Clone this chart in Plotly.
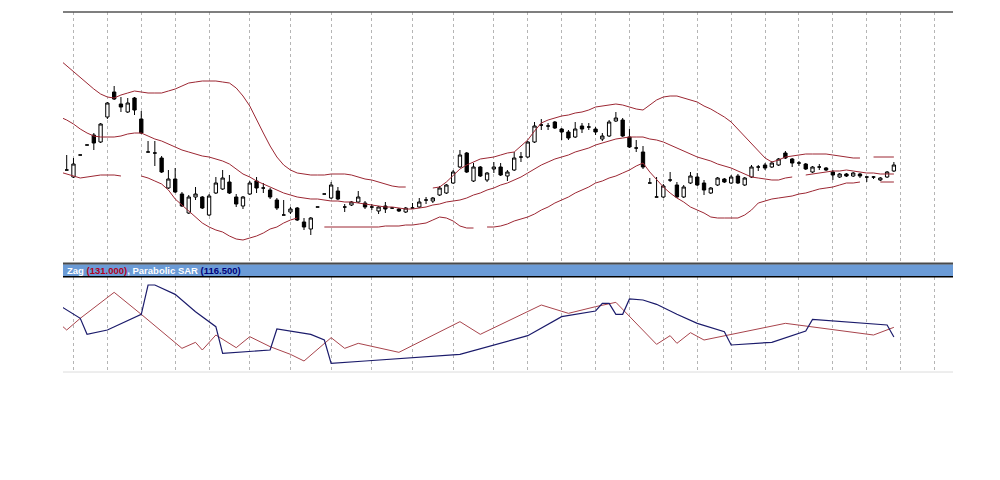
import plotly.graph_objects as go

# ---------------- price panel data (bar index 0..122) ----------------
bar_open = [130, 123, 145, 155, 165, 158, 183, 208, 196, 188, 202, 181, 148, 147, 142, 112, 121, 106, 87, 103,
            103, 85, 107, 111, 118, 103, 94, 106, 119, 112, 110, 100, 85, 88, 92, 78, 71, 93, 106, 102,
            109, 93, 95, 98, 97, 93, 89, 94, 92, 91, 88, 92, 93, 100, 99, 105, 107, 117, 133, 147,
            119, 133, 120, 131, 133, 124, 130, 143, 143, 158, 175, 174, 178, 171, 168, 163, 174, 173, 171, 161,
            164, 179, 180, 163, 152, 148, 117, 103, 103, 120, 115, 103, 117, 123, 117, 107, 115, 121, 117, 124,
            115, 123, 133, 135, 133, 135, 147, 141, 137, 136, 128, 133, 132, 128, 123, 126, 124, 126, 123, 123,
            120, 123, 129]
bar_high = [145, 142, 145, 155, 167, 177, 198, 214, 203, 202, 203, 189, 159, 159, 144, 130, 132, 108, 105, 113,
            104, 106, 123, 130, 125, 106, 104, 119, 123, 117, 112, 102, 100, 93, 93, 82, 83, 93, 106, 118,
            113, 96, 99, 109, 99, 96, 94, 98, 93, 92, 93, 97, 102, 103, 103, 114, 116, 130, 150, 148,
            137, 134, 128, 138, 137, 130, 148, 148, 159, 178, 181, 177, 179, 172, 170, 178, 177, 177, 173, 167,
            180, 188, 182, 171, 160, 154, 122, 123, 116, 128, 118, 115, 128, 127, 120, 113, 123, 122, 125, 126,
            123, 135, 135, 137, 139, 142, 149, 142, 139, 137, 134, 136, 133, 130, 127, 127, 128, 127, 123, 124,
            123, 129, 138]
bar_low = [130, 122, 145, 155, 150, 157, 181, 200, 188, 187, 185, 166, 148, 134, 127, 111, 107, 93, 86, 100,
           91, 84, 106, 110, 106, 93, 91, 105, 107, 107, 101, 90, 85, 86, 79, 70, 65, 93, 106, 101,
           100, 88, 94, 97, 91, 90, 86, 87, 91, 88, 87, 92, 92, 96, 97, 104, 106, 116, 132, 127,
           118, 123, 118, 127, 124, 119, 129, 138, 142, 157, 170, 170, 171, 160, 160, 162, 167, 170, 165, 159,
           163, 178, 163, 152, 148, 131, 117, 103, 102, 118, 102, 102, 116, 114, 105, 106, 114, 117, 116, 116,
           114, 122, 129, 130, 132, 134, 141, 133, 134, 130, 127, 130, 129, 120, 122, 123, 123, 122, 118, 121,
           119, 122, 128]
bar_close = [130, 136, 145, 155, 157, 176, 197, 201, 193, 197, 190, 167, 148, 147, 128, 121, 108, 94, 103, 106,
             92, 104, 117, 122, 107, 96, 103, 117, 112, 112, 103, 92, 85, 91, 80, 73, 82, 93, 106, 115,
             101, 93, 98, 103, 93, 93, 93, 91, 92, 89, 92, 92, 98, 100, 102, 112, 115, 128, 145, 128,
             133, 124, 127, 133, 125, 128, 142, 143, 158, 174, 175, 174, 172, 168, 162, 171, 171, 173, 168, 164,
             178, 182, 164, 153, 152, 133, 117, 103, 114, 120, 103, 113, 124, 115, 110, 112, 122, 118, 123, 117,
             122, 133, 133, 132, 137, 141, 142, 137, 137, 131, 133, 133, 130, 125, 126, 124, 127, 124, 123, 123,
             122, 128, 135]

# Bollinger bands, one value per bar starting one bar before the first visible candle (index -1)
bb_upper = [240, 234, 228, 222, 216, 211, 206, 203, 202, 205, 207, 209, 208, 207, 207, 207, 209, 211, 214, 217,
            218, 219, 219, 219, 218, 217, 212, 204, 194, 180, 167, 154, 143, 135, 130, 127, 126, 125, 125, 125,
            126, 126, 126, 125, 123, 121, 120, 118, 116, 114, 113, 113, None, None, None, 112, 113, 118, 125, 131,
            135, 138, 141, 142, 143, 145, 147, 148, 154, 160, 169, 177, 180, 182, 184, 185, 187, 188, 190, 193,
            194, 195, 196, 195, 193, 191, 190, 195, 200, 203, 204, 204, 202, 200, 198, 194, 191, 187, 183, 178,
            171, 164, 157, 149, 142, 138, 140, 143, 144, 145, 146, 146, 146, 146, 145, 144, 143, 142, 142, None,
            143, 143, 143, 143]
bb_middle = [183, 180, 176, 171, 167, 164, 163, 163, 163, 164, 166, 167, 167, 164, 161, 159, 156, 153, 150, 148,
             146, 144, 143, 141, 139, 136, 131, 126, 123, 119, 116, 113, 110, 107, 105, 103, 102, 101, 101, 100,
             99, 99, 98, 98, 97, 96, 95, 94, 93, 93, 92, 91, 91, 92, 93, 95, 96, 98, 99, 100,
             102, 105, 107, 110, 112, 115, 117, 120, 123, 127, 131, 135, 138, 141, 143, 145, 148, 150, 152, 155,
             157, 159, 161, 162, 163, 163, 163, 161, 160, 158, 155, 152, 149, 146, 143, 141, 139, 136, 134, 132,
             129, 126, 123, 122, 121, 120, 120, 122, 123, None, 125, 126, 127, 128, 129, 129, 130, 129, 128, 127,
             127, 126, 126, 126]
bb_lower = [128, 126, 124, 122, 123, 124, 125, 125, 125, 124, None, None, 124, 122, 119, 116, 110, 101, 95, 89,
            82, 77, 73, 70, 68, 64, 61, 60, 62, 64, 67, 71, 73, 77, 80, 82, None, None, None, 73,
            73, 73, 73, 73, 73, 73, 73, 73, 74, 74, 74, 75, 75, 76, 77, 80, 83, 82, 79, 74,
            72, 72, None, 73, 73, 74, 76, 79, 81, 83, 86, 90, 93, 97, 100, 103, 107, 110, 113, 117,
            119, 122, 124, 127, 130, 134, 137, 128, 120, 113, 107, 102, 98, 93, 90, 87, 83, 82, 82, 82,
            82, 85, 90, 97, 99, 101, 102, 103, 104, 106, 107, 109, 111, 112, 113, 115, 117, 117, 118, None,
            None, 118, 118, 118]

# ---------------- indicator panel data ----------------
zigzag_bar = [-1, 0, 2, 7, 11, 17, 19, 20, 22, 25, 27, 30, 33, 35, 39, 41, 43, 49, 58, 61,
              70, 74, 78, 81, 87, 89, 90, 92, 94, 106, 119, 122]
zigzag_val = [136, 127, 144.5, 183.5, 150.5, 99.5, 108.5, 97, 119.5, 100.5, 117, 102, 90.5, 80.5, 115.5, 99.5,
              107, 93.5, 139.5, 120.5, 164.5, 152, 162, 168.5, 105.5, 118.5, 107, 123, 112, 137, 119.5, 131]
sar_bar = [-1, 2, 3, 6, 11, 12, 13, 16, 19, 22, 23, 30, 31, 36, 38, 39, 44, 58, 68, 73,
           78, 79, 80, 81, 82, 83, 85, 87, 90, 93, 97, 98, 104, 109, 110, 115, 121, 122]
sar_val = [163.5, 144.5, 120.5, 127, 150.5, 194.5, 194.5, 180.5, 154.5, 132, 92, 97, 128.5, 120.5, 112, 77,
           80.5, 90.5, 118.5, 147, 155.5, 167, 167, 150.5, 150.5, 173.5, 172, 165.5, 150.5, 137, 124.5, 104.5,
           108.5, 125.5, 143, 139.5, 134.5, 116.5]

grid_bars = [1, 6, 11, 16, 21, 27, 33, 39, 45, 51, 57, 63, 68, 73, 78, 83, 88, 93, 98, 103, 108, 113, 118, 123, 128]

zigzag_label = "131.000"
sar_label = "116.500"

# ---------------- figure ----------------
BAND = "#9c2733"
bars = list(range(len(bar_open)))

fig = go.Figure()
fig.add_trace(go.Candlestick(
    x=bars, open=bar_open, high=bar_high, low=bar_low, close=bar_close,
    xaxis="x", yaxis="y",
    increasing=dict(line=dict(color="black", width=1), fillcolor="white"),
    decreasing=dict(line=dict(color="black", width=1), fillcolor="black"),
    whiskerwidth=0, showlegend=False, hoverinfo="skip"))

for band in (bb_upper, bb_middle, bb_lower):
    fig.add_trace(go.Scatter(
        x=list(range(-1, -1 + len(band))), y=band, mode="lines",
        line=dict(color=BAND, width=1), connectgaps=False,
        xaxis="x", yaxis="y", showlegend=False, hoverinfo="skip"))

fig.add_trace(go.Scatter(x=zigzag_bar, y=zigzag_val, mode="lines",
                         line=dict(color="#a8444c", width=1),
                         xaxis="x2", yaxis="y2", showlegend=False, hoverinfo="skip"))
fig.add_trace(go.Scatter(x=sar_bar, y=sar_val, mode="lines",
                         line=dict(color="#1b1b6b", width=1.2),
                         xaxis="x2", yaxis="y2", showlegend=False, hoverinfo="skip"))

XR = [-0.546, 130.72]
axis_common = dict(range=XR, tickvals=grid_bars, showticklabels=False, ticks="",
                   showgrid=True, gridcolor="#b5b5b5", griddash="dot", gridwidth=1,
                   zeroline=False, showline=False)

H = 360.0  # plot area height in px (page y 12..372)
def py(px):
    return (372 - px) / H

fig.update_layout(
    width=1000, height=480,
    margin=dict(l=55, r=55, t=4, b=116),
    paper_bgcolor="white", plot_bgcolor="white",
    showlegend=False,
    xaxis=dict(anchor="y", rangeslider=dict(visible=False), **axis_common),
    xaxis2=dict(anchor="y2", matches="x", **axis_common),
    yaxis=dict(domain=[py(262), 1], range=[38, 288], showticklabels=False, showgrid=False,
               zeroline=False, ticks=""),
    yaxis2=dict(domain=[0, py(277)], range=[64, 206.5], showticklabels=False, showgrid=False,
                zeroline=False, ticks=""),
    shapes=[
        dict(type="line", xref="paper", yref="paper", x0=0, x1=1, y0=1, y1=1,
             line=dict(color="#555555", width=1.5)),
        dict(type="rect", xref="paper", yref="paper", x0=0, x1=1, y0=py(276.3), y1=py(264.3),
             fillcolor="#6b9bd6", line=dict(width=0)),
        dict(type="line", xref="paper", yref="paper", x0=0, x1=1, y0=py(263.5), y1=py(263.5),
             line=dict(color="#4a4a4a", width=2)),
        dict(type="line", xref="paper", yref="paper", x0=0, x1=1, y0=py(276.8), y1=py(276.8),
             line=dict(color="#000000", width=1.5)),
        dict(type="line", xref="paper", yref="paper", x0=0, x1=1, y0=0, y1=0,
             line=dict(color="#dcdcdc", width=1)),
    ],
    annotations=[
        dict(xref="paper", yref="paper", x=0.002, y=py(270.3), xanchor="left", yanchor="middle",
             showarrow=False,
             text=("<b>Zag <span style='color:#b3001b'>(" + zigzag_label + ")</span>, Parabolic SAR "
                   "<span style='color:#00007a'>(" + sar_label + ")</span></b>"),
             font=dict(family="Liberation Sans", size=9.5, color="white")),
    ],
)

fig.write_html("out.html")
